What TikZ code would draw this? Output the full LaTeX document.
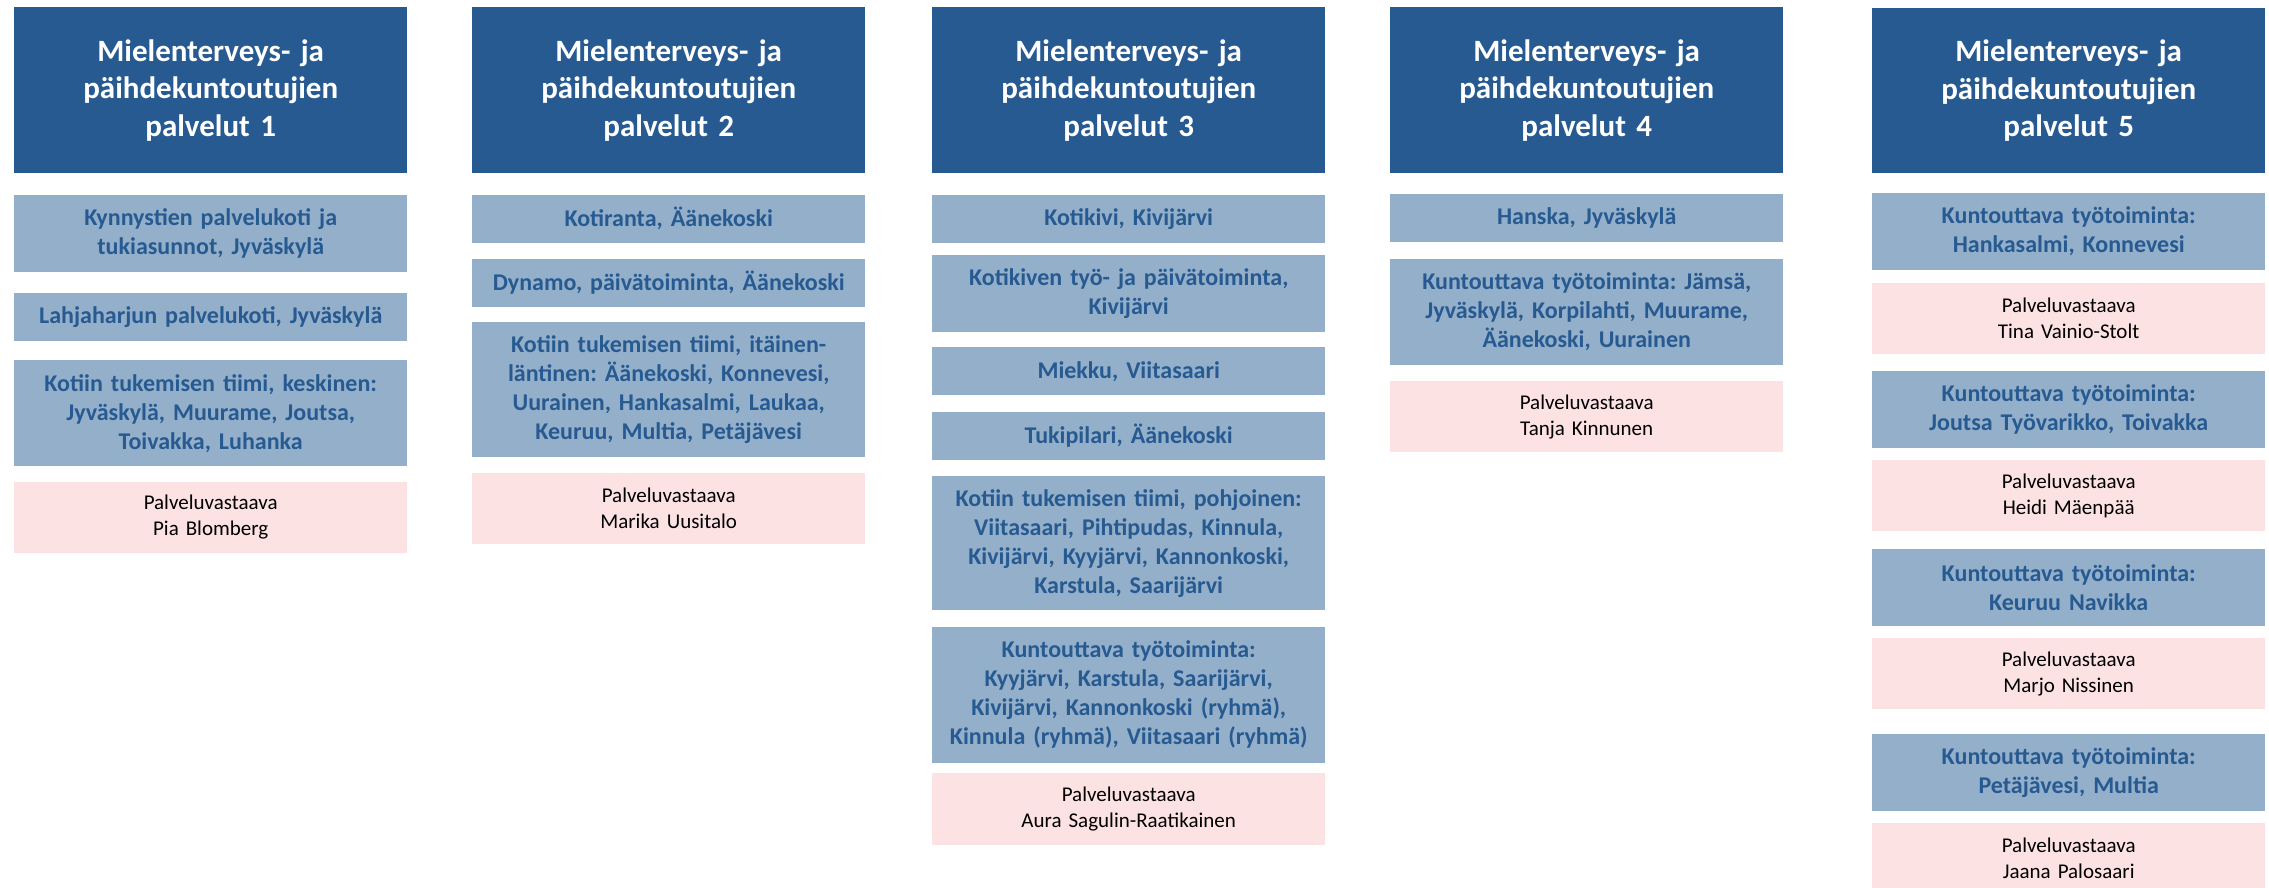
\documentclass[tikz,border=0pt]{standalone}
\usepackage{fontspec}
\setmainfont{Carlito}
\usetikzlibrary{positioning}
\definecolor{tummasin}{RGB}{38,90,145}
\definecolor{vaaleasin}{RGB}{148,175,202}
\definecolor{vaaleapun}{RGB}{253,226,228}
\frenchspacing

\begin{document}
\begin{tikzpicture}[x=1pt,y=1pt,
    header/.style={fill=tummasin,text=white,font=\bfseries\fontsize{31}{37.6}\selectfont,
        text width=373pt,inner xsep=10pt,inner ysep=0pt,align=center,minimum height=166pt,anchor=north west},
    service/.style={fill=vaaleasin,text=tummasin,font=\bfseries\fontsize{24}{29}\selectfont,
        text width=373pt,inner xsep=10pt,inner ysep=0pt,align=center},
    contact/.style={fill=vaaleapun,text=black,font=\fontsize{21}{26}\selectfont,
        text width=373pt,inner xsep=10pt,inner ysep=0pt,align=center,minimum height=71pt}]

    \useasboundingbox (0,0) rectangle (2269,-888);
    \clip (0,0) rectangle (2269,-888);

    % palvelut 1
    \node[header] (h1) at (14,-7) {Mielenterveys- ja\\päihdekuntoutujien\\palvelut 1};
    \node[service, minimum height=77pt] (a1) [below=21pt of h1] {Kynnystien palvelukoti ja\\tukiasunnot, Jyväskylä};
    \node[service, minimum height=48pt] (b1) [below=21pt of a1] {Lahjaharjun palvelukoti, Jyväskylä};
    \node[service, minimum height=106pt] (c1) [below=19pt of b1] {Kotiin tukemisen tiimi, keskinen:\\Jyväskylä, Muurame, Joutsa,\\Toivakka, Luhanka};
    \node[contact] (p1) [below=15pt of c1] {Palveluvastaava\\Pia Blomberg};

    % palvelut 2
    \node[header] (h2) at (472,-7) {Mielenterveys- ja\\päihdekuntoutujien\\palvelut 2};
    \node[service, minimum height=48pt] (a2) [below=21pt of h2] {Kotiranta, Äänekoski};
    \node[service, minimum height=48pt] (b2) [below=16pt of a2] {Dynamo, päivätoiminta, Äänekoski};
    \node[service, minimum height=135pt] (c2) [below=15pt of b2] {Kotiin tukemisen tiimi, itäinen-\\läntinen: Äänekoski, Konnevesi,\\Uurainen, Hankasalmi, Laukaa,\\Keuruu, Multia, Petäjävesi};
    \node[contact] (p2) [below=15pt of c2] {Palveluvastaava\\Marika Uusitalo};

    % palvelut 3
    \node[header] (h3) at (932,-7) {Mielenterveys- ja\\päihdekuntoutujien\\palvelut 3};
    \node[service, minimum height=48pt] (a3) [below=21pt of h3] {Kotikivi, Kivijärvi};
    \node[service, minimum height=77pt] (b3) [below=12pt of a3] {Kotikiven työ- ja päivätoiminta,\\Kivijärvi};
    \node[service, minimum height=48pt] (c3) [below=15pt of b3] {Miekku, Viitasaari};
    \node[service, minimum height=48pt] (d3) [below=16pt of c3] {Tukipilari, Äänekoski};
    \node[service, minimum height=134pt] (e3) [below=16pt of d3] {Kotiin tukemisen tiimi, pohjoinen:\\Viitasaari, Pihtipudas, Kinnula,\\Kivijärvi, Kyyjärvi, Kannonkoski,\\Karstula, Saarijärvi};
    \node[service, minimum height=136pt] (f3) [below=16pt of e3] {Kuntouttava työtoiminta:\\Kyyjärvi, Karstula, Saarijärvi,\\Kivijärvi, Kannonkoski (ryhmä),\\Kinnula (ryhmä), Viitasaari (ryhmä)};
    \node[contact, minimum height=72pt] (p3) [below=10pt of f3] {Palveluvastaava\\Aura Sagulin-Raatikainen};

    % palvelut 4
    \node[header] (h4) at (1390,-7) {Mielenterveys- ja\\päihdekuntoutujien\\palvelut 4};
    \node[service, minimum height=48pt] (a4) [below=20pt of h4] {Hanska, Jyväskylä};
    \node[service, minimum height=106pt] (b4) [below=17pt of a4] {Kuntouttava työtoiminta: Jämsä,\\Jyväskylä, Korpilahti, Muurame,\\Äänekoski, Uurainen};
    \node[contact] (p4) [below=16pt of b4] {Palveluvastaava\\Tanja Kinnunen};

    % palvelut 5
    \node[header, minimum height=165pt] (h5) at (1872,-8) {Mielenterveys- ja\\päihdekuntoutujien\\palvelut 5};
    \node[service, minimum height=77pt] (a5) [below=19pt of h5] {Kuntouttava työtoiminta:\\Hankasalmi, Konnevesi};
    \node[contact] (p5a) [below=12.5pt of a5] {Palveluvastaava\\Tina Vainio-Stolt};
    \node[service, minimum height=77pt] (b5) [below=17.5pt of p5a] {Kuntouttava työtoiminta:\\Joutsa Työvarikko, Toivakka};
    \node[contact] (p5b) [below=11.5pt of b5] {Palveluvastaava\\Heidi Mäenpää};
    \node[service, minimum height=77pt] (c5) [below=17pt of p5b] {Kuntouttava työtoiminta:\\Keuruu Navikka};
    \node[contact] (p5c) [below=12pt of c5] {Palveluvastaava\\Marjo Nissinen};
    \node[service, minimum height=77pt] (d5) [below=24.5pt of p5c] {Kuntouttava työtoiminta:\\Petäjävesi, Multia};
    \node[contact] (p5d) [below=11.5pt of d5] {Palveluvastaava\\Jaana Palosaari};
\end{tikzpicture}
\end{document}
